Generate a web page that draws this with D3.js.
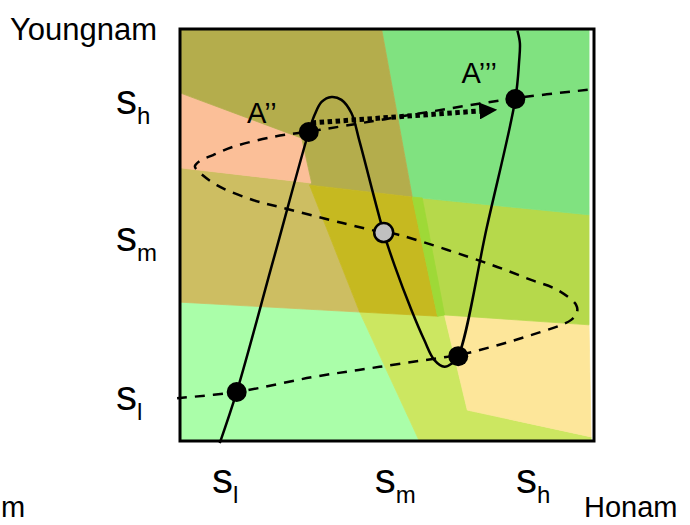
<!DOCTYPE html>
<html><head><meta charset="utf-8">
<script src="https://cdn.jsdelivr.net/npm/d3@7"></script>
<style>
body{margin:0;background:#fff}
svg{display:block;font-family:"Liberation Sans",Arial,Helvetica,sans-serif}
</style>
</head><body>
<svg id="chart" width="690" height="525"></svg>
<script>
// ---------- data (strategy space, 0..100 on each axis) ----------
const axisNames = ["Honam", "Youngnam"];
const tickLevels = ["l", "m", "h"];
const xTickValues = [10.4, 49.7, 83.8];
const yTickValues = [10.2, 48.8, 82.0];

// coloured basins (polygons in strategy space)
const regionLightGreen = [[0,33.7],[43.4,31.3],[57.8,0],[0,0]];
const regionLime = [[43.4,31.3],[62.2,30.3],[63.9,30.6],[69.4,7.5],[99.3,1.0],[99.3,0],[57.8,0]];
const regionLightYellow = [[63.9,30.6],[98.8,28.2],[99.3,1.0],[69.4,7.5]];
const regionYellowGreen = [[56.1,59.2],[98.8,54.9],[98.8,28.2],[63.9,30.6],[62.2,30.3]];
const regionGreen = [[48.7,100],[98.8,100],[98.8,54.9],[56.1,59.2]];
const regionTan = [[0,66.3],[31.8,62.6],[31.3,62.1],[43.4,31.3],[0,33.7]];
const regionPink = [[0,84.5],[29.4,73.5],[31.8,62.6],[0,66.3]];
const regionOlive = [[0,100],[48.7,100],[56.1,59.2],[31.3,62.1],[31.8,62.6],[29.4,73.5],[0,84.5]];
const regionDarkYellow = [[31.3,62.1],[56.1,59.2],[62.2,30.3],[43.4,31.3]];
const regionLimeStrip = [[56.1,59.2],[58.5,59.0],[63.9,30.6],[62.2,30.3]];

// best-response curves
const solidCurve = [[9.6,-0.5],[13.7,11.9],[22.4,43.4],[31.1,75.0],[32.5,79.1],[34.2,82.3],[36.6,83.5],[39.0,82.8],[41.4,79.6],[43.4,72.6],[49.2,50.6],[51.8,42.7],[55.9,31.8],[59.0,24.5],[61.4,19.7],[63.9,18.0],[65.5,18.7],[67.2,20.6],[74.1,51.8],[81.0,83.0],[81.9,92.0],[82.1,96.6],[81.5,99.6]];
const dashedCurve = [[-0.7,10.4],[13.7,11.9],[32.0,15.5],[48.2,18.0],[64.3,20.4],[67.2,20.8],[84.8,25.7],[94.5,29.4],[95.9,31.3],[95.7,33.0],[91.1,36.7],[84.8,39.1],[75.4,42.7],[51.8,50.3],[49.2,50.6],[39.3,52.9],[24.8,56.6],[17.6,58.5],[8.9,62.1],[4.1,65.8],[3.6,66.7],[4.8,68.0],[8.0,69.4],[12.8,71.4],[22.4,73.8],[31.1,75.1],[39.8,76.5],[60.2,79.9],[81.0,83.2],[100,85.4]];

// equilibria
const stableEq = [[13.7,11.9],[31.1,75.0],[67.2,20.6],[81.0,83.0]];
const unstableEq = [[49.2,50.6]];
const eqLabels = ["A’’", "A’’’"];
const eqLabelPos = [[16.2,77.3],[68.0,86.9]];

// transition arrow A'' -> A'''
const arrowPath = [[31.8,77.2],[72.3,80.1]];

// ---------- drawing ----------
const svg = d3.select("#chart");
const x = d3.scaleLinear().domain([0,100]).range([180,594]);
const y = d3.scaleLinear().domain([0,100]).range([441,29]);

const regions = [
  {pts: regionLightGreen, fill: "#aafea9"},
  {pts: regionLime, fill: "#cce761"},
  {pts: regionLightYellow, fill: "#fde69a"},
  {pts: regionYellowGreen, fill: "#b6d94b"},
  {pts: regionGreen, fill: "#80e280"},
  {pts: regionTan, fill: "#cdbe62"},
  {pts: regionPink, fill: "#fbbf98"},
  {pts: regionOlive, fill: "#b4ad4c"},
  {pts: regionDarkYellow, fill: "#c6b920"},
  {pts: regionLimeStrip, fill: "#9ed937"}
];
const poly = d3.line().x(d => x(d[0])).y(d => y(d[1]));
svg.append("g").selectAll("path").data(regions).join("path")
  .attr("d", d => poly(d.pts) + "Z")
  .attr("fill", d => d.fill)
  .attr("stroke", d => d.fill)
  .attr("stroke-width", 0.8)
  .attr("stroke-linejoin", "round");

// frame
svg.append("rect")
  .attr("x", x(0)).attr("y", y(100))
  .attr("width", x(100) - x(0)).attr("height", y(0) - y(100))
  .attr("fill", "none").attr("stroke", "#000").attr("stroke-width", 3);

const curve = d3.line().x(d => x(d[0])).y(d => y(d[1])).curve(d3.curveCatmullRom.alpha(0.5));

svg.append("path").attr("d", curve(dashedCurve))
  .attr("fill", "none").attr("stroke", "#000").attr("stroke-width", 2.5)
  .attr("stroke-dasharray", "10,8");

svg.append("path").attr("d", curve(solidCurve))
  .attr("fill", "none").attr("stroke", "#000").attr("stroke-width", 2.5);

// arrow
svg.append("defs").append("marker")
  .attr("id", "tri").attr("viewBox", "0 0 18 17")
  .attr("refX", 0).attr("refY", 8.5)
  .attr("markerWidth", 18).attr("markerHeight", 17)
  .attr("markerUnits", "userSpaceOnUse").attr("orient", "auto")
  .append("path").attr("d", "M0,0L18,8.5L0,17Z").attr("fill", "#000");
svg.append("path").attr("d", poly(arrowPath))
  .attr("fill", "none").attr("stroke", "#000").attr("stroke-width", 5)
  .attr("stroke-dasharray", "4.5,3.5")
  .attr("marker-end", "url(#tri)");

// equilibrium dots
svg.append("g").selectAll("circle").data(stableEq).join("circle")
  .attr("cx", d => x(d[0])).attr("cy", d => y(d[1])).attr("r", 10)
  .attr("fill", "#000");
svg.append("g").selectAll("circle").data(unstableEq).join("circle")
  .attr("cx", d => x(d[0])).attr("cy", d => y(d[1])).attr("r", 9.5)
  .attr("fill", "#c0c0c0").attr("stroke", "#000").attr("stroke-width", 2.5);

// equilibrium labels
svg.append("g").selectAll("text").data(eqLabels).join("text")
  .attr("x", (d,i) => x(eqLabelPos[i][0])).attr("y", (d,i) => y(eqLabelPos[i][1]))
  .attr("font-size", 29).attr("fill", "#000").text(d => d);

// tick labels (s with subscript)
function sLabel(g, px, py, sub, anchor) {
  const t = g.append("text").attr("x", px).attr("y", py).attr("text-anchor", anchor).attr("fill", "#000");
  t.append("tspan").attr("font-size", 42).text("s");
  t.append("tspan").attr("font-size", 24).attr("dy", 10).text(sub);
}
const tg = svg.append("g");
xTickValues.forEach((v,i) => sLabel(tg, x(v) - 11, 493, tickLevels[i], "start"));
yTickValues.forEach((v,i) => sLabel(tg, 116, y(v) + 11, tickLevels[i], "start"));

// axis names
svg.append("text").attr("x", 10).attr("y", 40).attr("font-size", 31).text(axisNames[1]);
svg.append("text").attr("x", 584).attr("y", 517).attr("font-size", 29).text(axisNames[0]);
svg.append("text").attr("x", 1).attr("y", 517).attr("font-size", 29).text("m");
</script>
</body></html>
